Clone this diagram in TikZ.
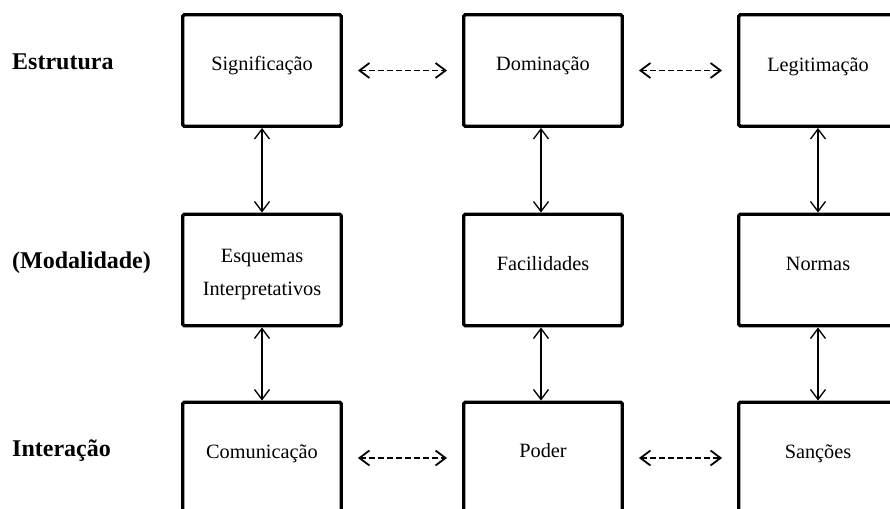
\documentclass[tikz,border=0pt]{standalone}
\usepackage{fontspec}
\setmainfont{Liberation Serif}
\usetikzlibrary{arrows.meta}
\begin{document}
\begin{tikzpicture}[x=1pt,y=-1pt,
  box/.style={draw,line width=3.4pt,rounded corners=1.5pt,minimum width=158.5pt,minimum height=111.5pt,inner sep=0pt},
  txt/.style={font=\fontsize{20.3}{33}\selectfont,anchor=base,inner sep=0pt},
  lbl/.style={font=\fontsize{24}{28}\selectfont\bfseries,anchor=base west,inner sep=0pt},
  tip/.style={Straight Barb[length=10pt,width=15pt,line width=1.5pt]},
  dbl/.style={line width=1.3pt,{Straight Barb[length=10pt,width=15pt]}-{Straight Barb[length=10pt,width=15pt]}},
  dsh/.style={line width=1.8pt,dash pattern=on 6pt off 3pt,shorten <=15pt,shorten >=15pt,
    {Straight Barb[length=10pt,width=15pt]}-{Straight Barb[length=10pt,width=15pt]}}]
\useasboundingbox (0,0) rectangle (890,508);
\clip (0,0) rectangle (890,508);

% boxes
\node[box] (sig) at (262,70.5) {};
\node[box] (dom) at (543,70.5) {};
\node[box] (leg) at (818,70.5) {};
\node[box] (esq) at (262,270) {};
\node[box] (fac) at (543,270) {};
\node[box] (nor) at (818,270) {};
\node[box] (com) at (262,458) {};
\node[box] (pod) at (543,458) {};
\node[box] (san) at (818,458) {};

% box texts
\node[txt] (tsig) at (262,70.5) {Significação};
\node[txt] (tdom) at (543,70.5) {Dominação};
\node[txt] (tleg) at (818,71.5) {Legitimação};
\node[txt,anchor=center,align=center] (tesq) at (262,275) {Esquemas\\Interpretativos};
\node[txt] (tfac) at (543,270) {Facilidades};
\node[txt] (tnor) at (818,270.5) {Normas};
\node[txt] (tcom) at (262,458) {Comunicação};
\node[txt] (tpod) at (543,457) {Poder};
\node[txt] (tsan) at (818,458) {Sanções};

% row labels
\node[lbl] (lest) at (12,70) {Estrutura};
\node[lbl] (lmod) at (12,268) {(Modalidade)};
\node[lbl] (lint) at (12,456) {Interação};

% vertical arrows
\draw[dbl] (sig.south) -- (esq.north);
\draw[dbl] (esq.south) -- (com.north);
\draw[dbl] ([xshift=-2pt]dom.south) -- ([xshift=-2pt]fac.north);
\draw[dbl] ([xshift=-2pt]fac.south) -- ([xshift=-2pt]pod.north);
\draw[dbl] (leg.south) -- (nor.north);
\draw[dbl] (nor.south) -- (san.north);

% dashed arrows
\draw[dsh] (sig.east) -- (dom.west);
\draw[dsh] (dom.east) -- (leg.west);
\draw[dsh] (com.east) -- (pod.west);
\draw[dsh] (pod.east) -- (san.west);
\end{tikzpicture}
\end{document}
